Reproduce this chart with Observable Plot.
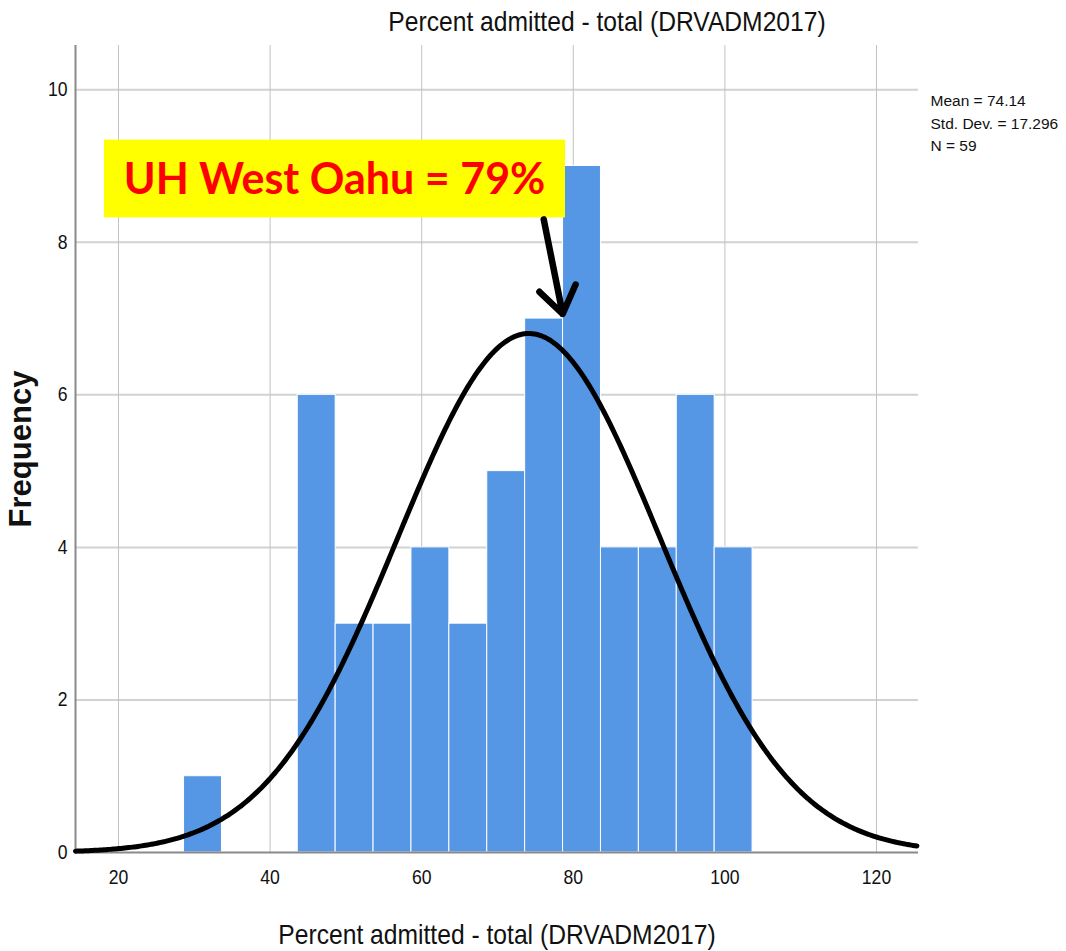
<!DOCTYPE html>
<html><head><meta charset="utf-8">
<script src="https://cdn.jsdelivr.net/npm/d3@7"></script>
<script src="https://cdn.jsdelivr.net/npm/@observablehq/plot@0.6"></script>
<style>
html,body{margin:0;padding:0;background:#fff;}
</style></head><body><div id="chart"></div>
<script>
// ---- data ----
const binStarts = [28.65, 43.65, 48.65, 53.65, 58.65, 63.65, 68.65, 73.65, 78.65, 83.65, 88.65, 93.65, 98.65];
const counts    = [1, 6, 3, 3, 4, 3, 5, 7, 9, 4, 4, 6, 4];
const binWidth = 5;
const xTicks = [20, 40, 60, 80, 100, 120];
const yTicks = [0, 2, 4, 6, 8, 10];
const meanVal = 74.14;
const sdVal = 17.296;
const nVal = 59;
const titleText = "Percent admitted - total (DRVADM2017)";
const xLabel = "Percent admitted - total (DRVADM2017)";
const yLabel = "Frequency";
const legendLines = ["Mean = 74.14", "Std. Dev. = 17.296", "N = 59"];
const calloutText = ["UH West Oahu = 79%"];
const calloutBox = [{x1: 18.15, x2: 78.97, y1: 8.32, y2: 9.34}];
const calloutTextPos = [{x: 48.5, y: 8.81}];
const calloutArrow = [{x1: 76.1, y1: 8.30, x2: 78.6, y2: 7.06}];

const xDomain = [14.33, 125.54];
const yDomain = [0, 10.58];

// ---- derived tables ----
const bins = binStarts.map((s, i) => ({x1: s, x2: s + binWidth, count: counts[i]}));
// fitted normal curve shown by the chart (from its stated mean / sd / N)
const curve = d3.range(xDomain[0], xDomain[1] + 0.01, 0.25).map(x => ({
  x, y: nVal * binWidth * Math.exp(-0.5 * ((x - meanVal) / sdVal) ** 2) / (sdVal * Math.sqrt(2 * Math.PI))
}));

const narrow = "'Liberation Sans Narrow', 'Arial Narrow', 'Liberation Sans', Arial, sans-serif";
const plain = "'Liberation Sans', Arial, sans-serif";
const squeeze = 0.88;

const legendMarks = legendLines.map((t, i) => Plot.text([t], {
  frameAnchor: "top-right", text: d => d, dx: 12, dy: 56 + i * 22.5, textAnchor: "start", lineAnchor: "middle",
  fontSize: 15.5, fontFamily: plain, fill: "#111"
}));

const chart = Plot.plot({
  width: 1066, height: 951,
  marginLeft: 75, marginRight: 148, marginTop: 45, marginBottom: 99,
  x: {domain: xDomain},
  y: {domain: yDomain},
  style: {background: "#fff", fontFamily: plain, color: "#111"},
  marks: [
    Plot.gridY(yTicks.slice(1), {stroke: "#d2d2d2", strokeOpacity: 1, strokeWidth: 2}),
    Plot.gridX(xTicks, {stroke: "#c2c2c2", strokeOpacity: 1, strokeWidth: 1}),
    Plot.rectY(bins, {x1: "x1", x2: "x2", y: "count", fill: "#5596e5", stroke: "#fff", strokeWidth: 1}),
    Plot.ruleY([0], {stroke: "#8a8a8a", strokeWidth: 2}),
    Plot.ruleX([xDomain[0]], {stroke: "#8a8a8a", strokeWidth: 2}),
    Plot.line(curve, {x: "x", y: "y", stroke: "#000", strokeWidth: 5}),
    Plot.axisX(xTicks, {tickSize: 0, tickPadding: 17, fontSize: 20, fontFamily: narrow, label: null, tickFormat: d => d}),
    Plot.axisY(yTicks, {tickSize: 0, tickPadding: 8, fontSize: 20, fontFamily: narrow, label: null, tickFormat: d => d}),
    Plot.rect(calloutBox, {x1: "x1", x2: "x2", y1: "y1", y2: "y2", fill: "#ffff00"}),
    Plot.text(calloutText, {x: calloutTextPos[0].x, y: calloutTextPos[0].y, text: d => d, fill: "#ff0000",
      fontSize: 43, fontWeight: "bold", fontFamily: "Lato, 'Open Sans', sans-serif"}),
    Plot.arrow(calloutArrow, {x1: "x1", y1: "y1", x2: "x2", y2: "y2", stroke: "#000", strokeWidth: 6.5, headLength: 15, headAngle: 70}),
    Plot.text([titleText], {frameAnchor: "top", text: d => d, dx: 110, dy: -23, lineAnchor: "middle",
      fontSize: 28, fontFamily: narrow, fill: "#111"}),
    Plot.text([xLabel], {frameAnchor: "bottom", text: d => d, dy: 83, lineAnchor: "middle",
      fontSize: 28, fontFamily: narrow, fill: "#111"}),
    Plot.text([yLabel], {frameAnchor: "left", text: d => d, dx: -54, rotate: -90, textAnchor: "middle", lineAnchor: "middle",
      fontSize: 31, fontWeight: "bold", fontFamily: plain, fill: "#111"}),
    ...legendMarks
  ]
});
document.getElementById("chart").appendChild(chart);
// condense the Arial-Narrow-style texts horizontally (no narrow face installed)
d3.select(chart).selectAll("g[font-family*='Narrow'] text").each(function() {
  const L = this.getComputedTextLength();
  this.setAttribute("textLength", (L * squeeze).toFixed(2));
  this.setAttribute("lengthAdjust", "spacingAndGlyphs");
});
</script>
</body></html>
